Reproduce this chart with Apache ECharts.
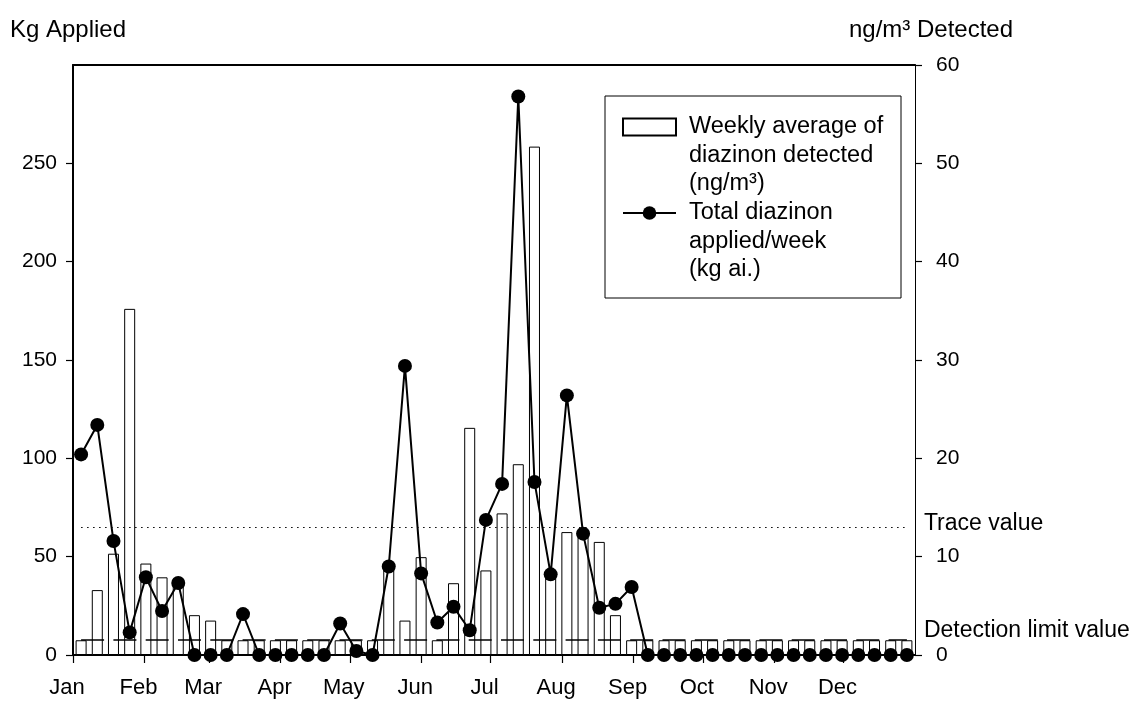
<!DOCTYPE html>
<html>
<head>
<meta charset="utf-8">
<script src="https://cdn.jsdelivr.net/npm/echarts@6/dist/echarts.min.js"></script>
<style>
html,body{margin:0;padding:0;background:#fff;}
#chart{width:1133px;height:702px;}
</style>
</head>
<body>
<div id="chart"></div>
<script>
// ---------------- data ----------------
const weeks = ['1','2','3','4','5','6','7','8','9','10','11','12','13','14','15','16','17','18','19','20',
  '21','22','23','24','25','26','27','28','29','30','31','32','33','34','35','36','37','38','39','40',
  '41','42','43','44','45','46','47','48','49','50','51','52'];

const monthNames = ['Jan','Feb','Mar','Apr','May','Jun','Jul','Aug','Sep','Oct','Nov','Dec'];
const monthStartDays = [0,31,59,90,120,151,181,212,243,273,304,334];

// Total diazinon applied per week (kg ai.) - left axis
const kgApplied = [102,117,58,11.5,39.5,22.4,36.6,0,0,0,
  20.8,0,0,0,0,0,16,2,0,45,
  147,41.5,16.5,24.5,12.6,68.7,87,284,88,41,
  132,61.7,24,26,34.6,0,0,0,0,0,
  0,0,0,0,0,0,0,0,0,0,0,0];

// Weekly average of diazinon detected (ng/m3) - right axis
const detected = [1.5,6.6,10.3,35.2,9.3,7.9,7.2,4.05,3.5,1.5,
  1.5,1.5,1.5,1.5,1.5,1.5,1.5,1.5,1.5,9.0,
  3.5,9.95,1.5,7.3,23.1,8.6,14.4,19.4,51.7,8.2,
  12.5,12.2,11.5,4.05,1.5,1.5,1.5,1.5,1.5,1.5,
  1.5,1.5,1.5,1.5,1.5,1.5,1.5,1.5,1.5,1.5,1.5,1.5];

const traceValue = 13;
const detectionLimit = 1.6;

const leftTicks = [0,50,100,150,200,250];
const leftMax = 300;
const rightTicks = [0,10,20,30,40,50,60];

const barName = 'Weekly average of diazinon detected (ng/m³)';
const lineName = 'Total diazinon applied/week (kg ai.)';

// ---------------- chart ----------------
const FONT = '"Liberation Sans", Arial, Helvetica, sans-serif';
const chart = echarts.init(document.getElementById('chart'), null, {renderer:'canvas'});

const legendCommon = {
  orient: 'vertical',
  left: 622,
  padding: 0,
  itemWidth: 53,
  itemHeight: 17,
  selectedMode: false,
  textStyle: {fontFamily: FONT, fontSize: 23.5, lineHeight: 28.5, color: '#000', padding: [0, 0, 0, 8]}
};

const option = {
  animation: false,
  backgroundColor: '#fff',
  textStyle: {fontFamily: FONT, color: '#000'},
  grid: {left: 73, right: 218, top: 65, bottom: 47, containLabel: false},
  legend: [
    Object.assign({}, legendCommon, {
      top: 55.75,
      data: [{name: barName, icon: 'rect'}],
      formatter: () => '\n\nWeekly average of\ndiazinon detected\n(ng/m³)'
    }),
    Object.assign({}, legendCommon, {
      top: 141.75,
      data: [lineName],
      formatter: () => '\n\nTotal diazinon\napplied/week\n(kg ai.)'
    })
  ],
  graphic: [{
    type: 'rect', z: 100, silent: true,
    shape: {x: 605, y: 96, width: 296, height: 202},
    style: {fill: 'none', stroke: '#000', lineWidth: 1}
  }],
  xAxis: [
    {
      type: 'category', data: weeks, position: 'top', boundaryGap: true,
      axisLine: {show: true, onZero: false, lineStyle: {color: '#000', width: 2}},
      axisTick: {show: false}, axisLabel: {show: false}, splitLine: {show: false}
    },
    {
      type: 'value', min: 0, max: 365, position: 'bottom',
      axisLine: {show: true, onZero: false, lineStyle: {color: '#000', width: 2}},
      axisTick: {show: true, inside: false, length: 8, customValues: monthStartDays, lineStyle: {color: '#000', width: 1.2}},
      axisLabel: {
        show: true, customValues: monthStartDays, margin: 22, fontSize: 22, color: '#000',
        fontFamily: FONT, padding: [0, 12, 0, 0],
        formatter: v => { const i = monthStartDays.indexOf(Math.round(v)); return i >= 0 ? monthNames[i] : ''; }
      },
      splitLine: {show: false}
    }
  ],
  yAxis: [
    {
      type: 'value', min: 0, max: leftMax, interval: 50, position: 'left',
      name: 'Kg Applied', nameLocation: 'end', nameGap: 23,
      nameTextStyle: {fontFamily: FONT, fontSize: 24, color: '#000', padding: [0, 10, 0, 0]},
      axisLine: {show: true, lineStyle: {color: '#000', width: 2}},
      axisTick: {show: true, length: 7, customValues: leftTicks, lineStyle: {color: '#000', width: 1.2}},
      axisLabel: {fontSize: 21, color: '#000', fontFamily: FONT, margin: 16, customValues: leftTicks},
      splitLine: {show: false}
    },
    {
      type: 'value', min: rightTicks[0], max: rightTicks[rightTicks.length-1], interval: 10, position: 'right',
      name: 'ng/m³ Detected', nameLocation: 'end', nameGap: 23,
      nameTextStyle: {fontFamily: FONT, fontSize: 24, color: '#000', padding: [0, 0, 0, 32]},
      axisLine: {show: true, lineStyle: {color: '#000', width: 1}},
      axisTick: {show: true, length: 7, lineStyle: {color: '#000', width: 1.2}},
      axisLabel: {fontSize: 21, color: '#000', fontFamily: FONT, margin: 21},
      splitLine: {show: false}
    }
  ],
  series: [
    {
      name: barName, type: 'bar', xAxisIndex: 0, yAxisIndex: 1,
      data: detected, barWidth: 11,
      itemStyle: {color: '#fff', borderColor: '#000', borderWidth: 1},
      z: 2,
      markLine: {
        silent: true, symbol: ['none', 'none'], animation: false,
        label: {show: true, position: 'end', distance: 17, fontSize: 23, color: '#000', fontFamily: FONT},
        data: [
          [
            {coord: [0, traceValue], lineStyle: {type: [1.5, 4.5], width: 1.2, color: '#000'},
             label: {formatter: 'Trace value\n ', lineHeight: 8}},
            {coord: [51, traceValue]}
          ],
          [
            {coord: [0, detectionLimit], lineStyle: {type: [23, 9.3], width: 1.6, color: '#000'},
             label: {formatter: 'Detection limit value\n ', lineHeight: 18}},
            {coord: [51, detectionLimit]}
          ]
        ]
      }
    },
    {
      name: lineName, type: 'line', xAxisIndex: 0, yAxisIndex: 0,
      data: kgApplied, symbol: 'circle', symbolSize: 14,
      showSymbol: true, showAllSymbol: true, clip: false,
      lineStyle: {color: '#000', width: 2},
      itemStyle: {color: '#000'},
      z: 5
    }
  ]
};
chart.setOption(option);
</script>
</body>
</html>
